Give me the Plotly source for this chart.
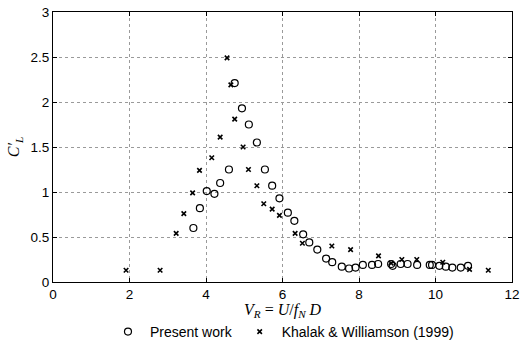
import plotly.graph_objects as go

# Present work (circles)
pw_vr = [3.67, 3.84, 4.02, 4.22, 4.37, 4.60, 4.75, 4.94, 5.12, 5.33, 5.54, 5.73, 5.92,
         6.14, 6.31, 6.54, 6.70, 6.91, 7.14, 7.30, 7.55, 7.74, 7.91, 8.10, 8.34, 8.50,
         8.84, 8.88, 9.09, 9.27, 9.52, 9.85, 9.91, 10.10, 10.27, 10.44, 10.66, 10.85]
pw_cl = [0.60, 0.82, 1.01, 0.98, 1.10, 1.25, 2.21, 1.93, 1.75, 1.55, 1.25, 1.07, 0.93,
         0.77, 0.68, 0.53, 0.44, 0.36, 0.26, 0.22, 0.17, 0.15, 0.16, 0.19, 0.19, 0.20,
         0.20, 0.18, 0.20, 0.20, 0.19, 0.19, 0.19, 0.18, 0.17, 0.16, 0.16, 0.18]

# Khalak & Williamson (1999) (crosses)
kw_vr = [1.91, 2.80, 3.22, 3.42, 3.65, 3.83, 4.15, 4.37, 4.55, 4.65, 4.75, 4.97, 5.11,
         5.33, 5.51, 5.73, 5.92, 6.33, 6.52, 7.29, 7.78, 8.51, 8.84, 9.12, 9.51, 10.19,
         10.89, 11.38]
kw_cl = [0.13, 0.13, 0.54, 0.76, 0.99, 1.24, 1.38, 1.61, 2.49, 2.19, 1.81, 1.50, 1.25,
         1.07, 0.87, 0.81, 0.74, 0.54, 0.43, 0.40, 0.36, 0.29, 0.21, 0.25, 0.25, 0.22,
         0.14, 0.13]

x_ticks = [0, 2, 4, 6, 8, 10, 12]
y_ticks = [0, 0.5, 1, 1.5, 2, 2.5, 3]
y_ticklabels = ["0", "0.5", "1", "1.5", "2", "2.5", "3"]
x_title = "<i>V<sub>R</sub></i> = <i>U</i>/<i>f<sub>N</sub> D</i>"
y_title = "<i>C′<sub>L</sub></i>"

fig = go.Figure()
fig.add_trace(go.Scatter(
    x=pw_vr, y=pw_cl, mode="markers", name="Present work",
    marker=dict(symbol="circle-open", size=7, color="black", line=dict(width=1.2, color="black")),
))
fig.add_trace(go.Scatter(
    x=kw_vr, y=kw_cl, mode="markers", name="Khalak & Williamson (1999)",
    marker=dict(symbol="x-thin-open", size=4.5, color="black", line=dict(width=1.6, color="black")),
))

axis_common = dict(
    showline=True, linecolor="black", linewidth=1.2, mirror="ticks",
    ticks="inside", ticklen=4, tickcolor="black", tickwidth=1,
    showgrid=True, gridcolor="#9a9a9a", griddash="dot", gridwidth=1,
    zeroline=False,
    tickfont=dict(family="Liberation Sans, Arial, sans-serif", size=13.5, color="black"),
)

fig.update_layout(
    width=528, height=344,
    margin=dict(l=53, r=16, t=12, b=62, autoexpand=False),
    paper_bgcolor="white", plot_bgcolor="white",
    showlegend=True,
    legend=dict(
        orientation="h", xref="container", yref="container",
        x=0.535, xanchor="center", y=0.035, yanchor="middle",
        font=dict(family="Liberation Sans, Arial, sans-serif", size=14, color="black"),
        itemwidth=34, bgcolor="rgba(0,0,0,0)",
    ),
    xaxis=dict(
        range=[0, 12], tickvals=x_ticks, ticktext=[str(v) for v in x_ticks],
        **axis_common,
    ),
    yaxis=dict(
        range=[0, 3], tickvals=y_ticks, ticktext=y_ticklabels,
        automargin=True,
        title=dict(text=y_title,
                   font=dict(family="Liberation Serif, DejaVu Serif, serif", size=16, color="black"),
                   standoff=6),
        **axis_common,
    ),
    annotations=[dict(
        text=x_title, xref="paper", yref="paper", x=0.5, y=-0.104,
        xanchor="center", yanchor="middle", showarrow=False,
        font=dict(family="Liberation Serif, DejaVu Serif, serif", size=16, color="black"),
    )],
)

fig.write_html("out.html")
